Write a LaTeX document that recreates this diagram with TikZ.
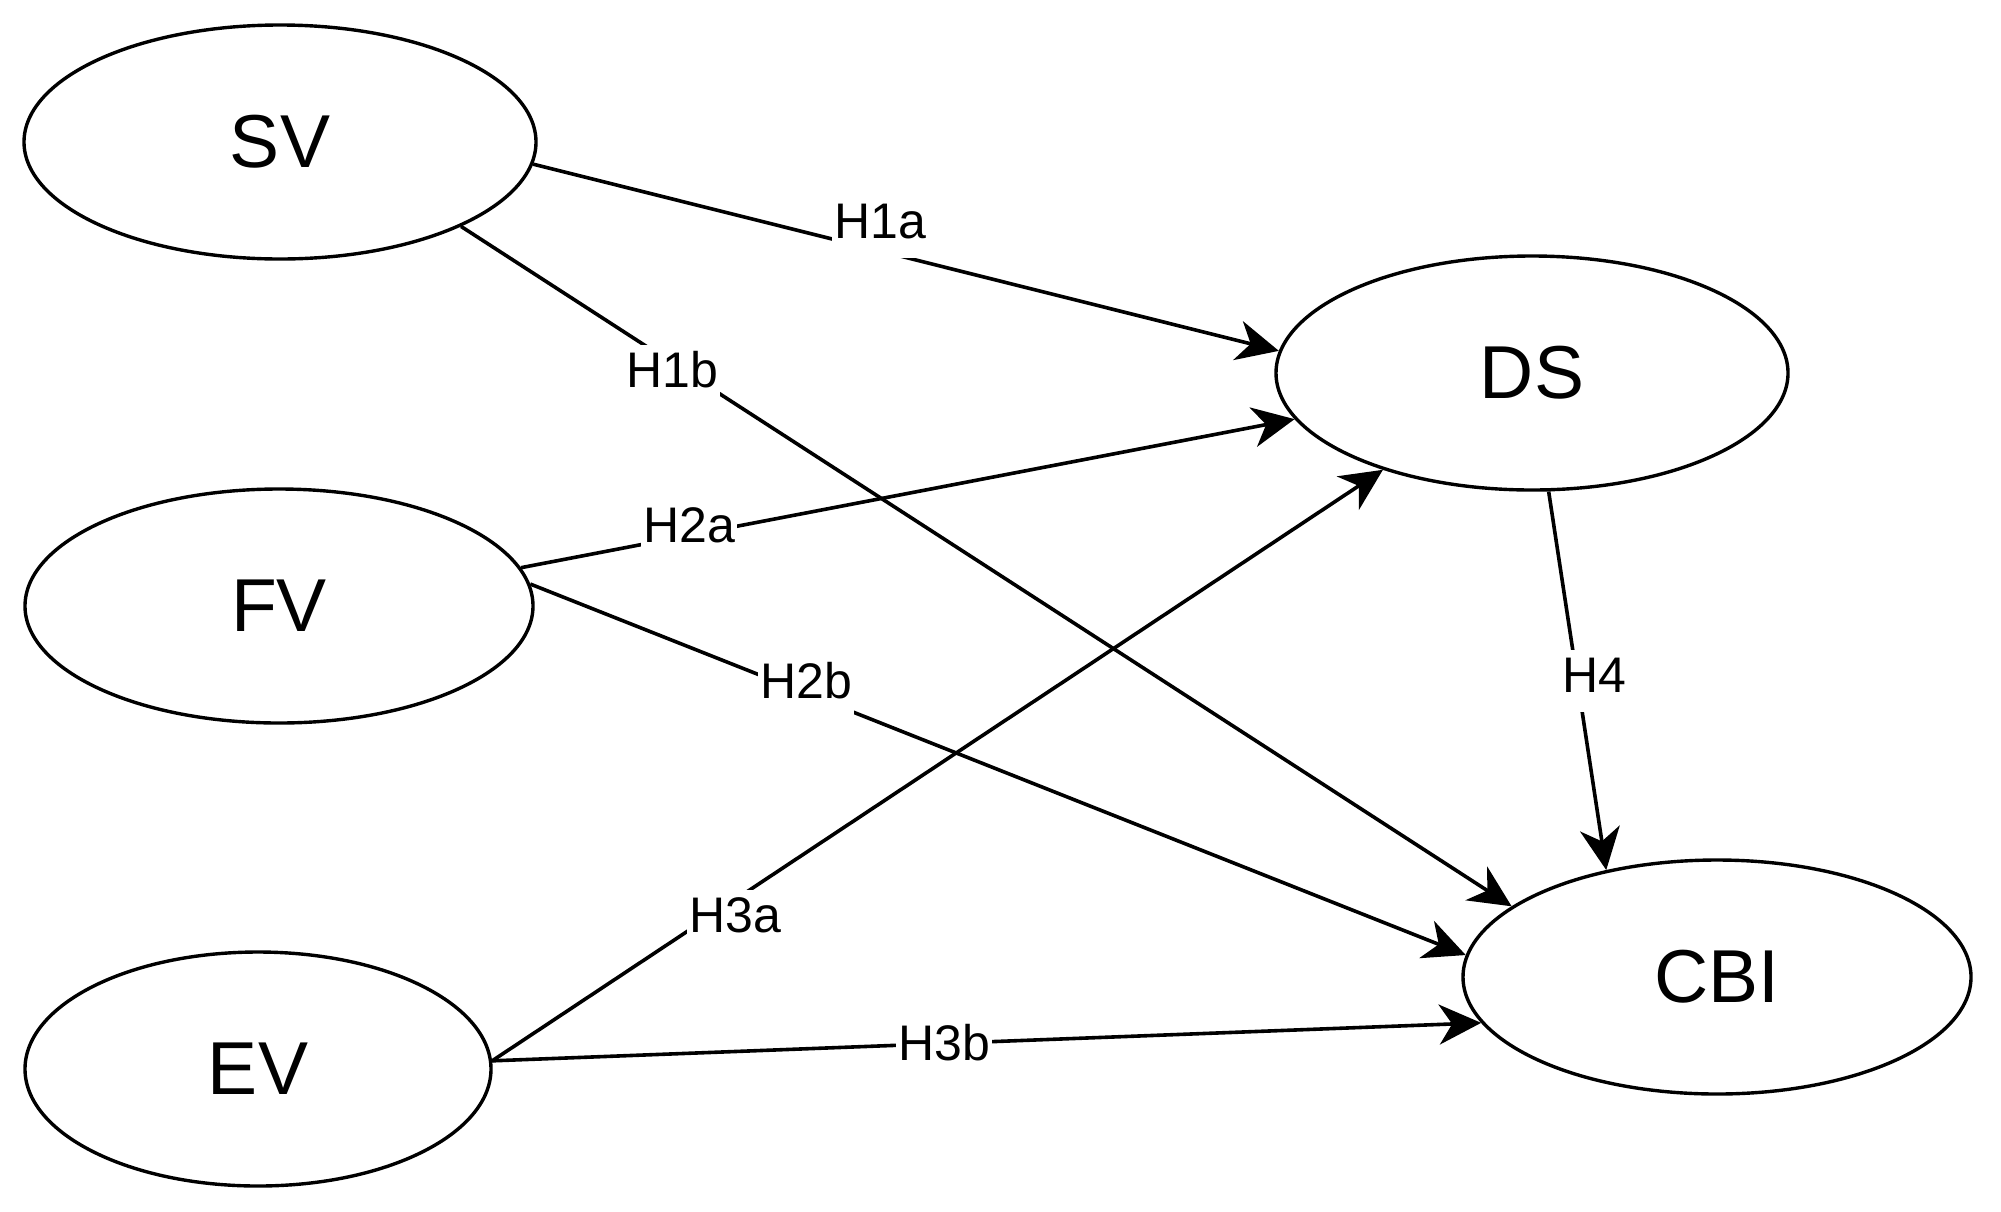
\documentclass[tikz,border=0pt]{standalone}
\usepackage{fontspec}
\setmainfont{Liberation Sans}
\usetikzlibrary{shapes.geometric,arrows.meta}
\tikzset{
  latent/.style={ellipse, draw, line width=1.7pt, inner sep=0pt, minimum height=117pt,
    font=\fontsize{37.5}{45}\selectfont},
  hyp/.style={fill=white, anchor=base, inner xsep=1pt, inner ysep=1pt,
    text height=20pt, text depth=9pt, font=\fontsize{25}{30}\selectfont},
  conn/.style={line width=1.8pt, -{Stealth[length=21pt,width=20pt,inset=6.5pt]}},
}
\begin{document}
\begin{tikzpicture}[x=0.5pt,y=-0.5pt]
\fill[white] (0,0) rectangle (2001,1211);
\useasboundingbox (0,0) rectangle (2001,1211);
% constructs
\node[latent, minimum width=256pt] (SV)  at (280,142)  {SV};
\node[latent, minimum width=254pt] (FV)  at (279,606)  {FV};
\node[latent, minimum width=233pt] (EV)  at (258,1069) {EV};
\node[latent, minimum width=256pt] (DS)  at (1532,373) {DS};
\node[latent, minimum width=254pt] (CBI) at (1717,977) {CBI};
% paths
\draw[conn] (SV.355) -- (DS.175);
\draw[conn] (SV.335) -- (CBI.161);
\draw[conn] (FV.9)   -- (DS.191);
\draw[conn] (FV.5)   -- (CBI.175);
\draw[conn] (EV.2)   -- (DS.213);
\draw[conn] (EV.2)   -- (CBI.191);
\draw[conn] (DS.278) -- (CBI.136);
% hypothesis labels
\node[hyp] (h1a) at (880,238)  {H1a};
\node[hyp] (h1b) at (672,387)  {H1b};
\node[hyp] (h2a) at (689,542)  {H2a};
\node[hyp] (h2b) at (806,698)  {H2b};
\node[hyp] (h3a) at (735,932)  {H3a};
\node[hyp] (h3b) at (944,1060) {H3b};
\node[hyp] (h4)  at (1594,692) {H4};
\end{tikzpicture}
\end{document}
